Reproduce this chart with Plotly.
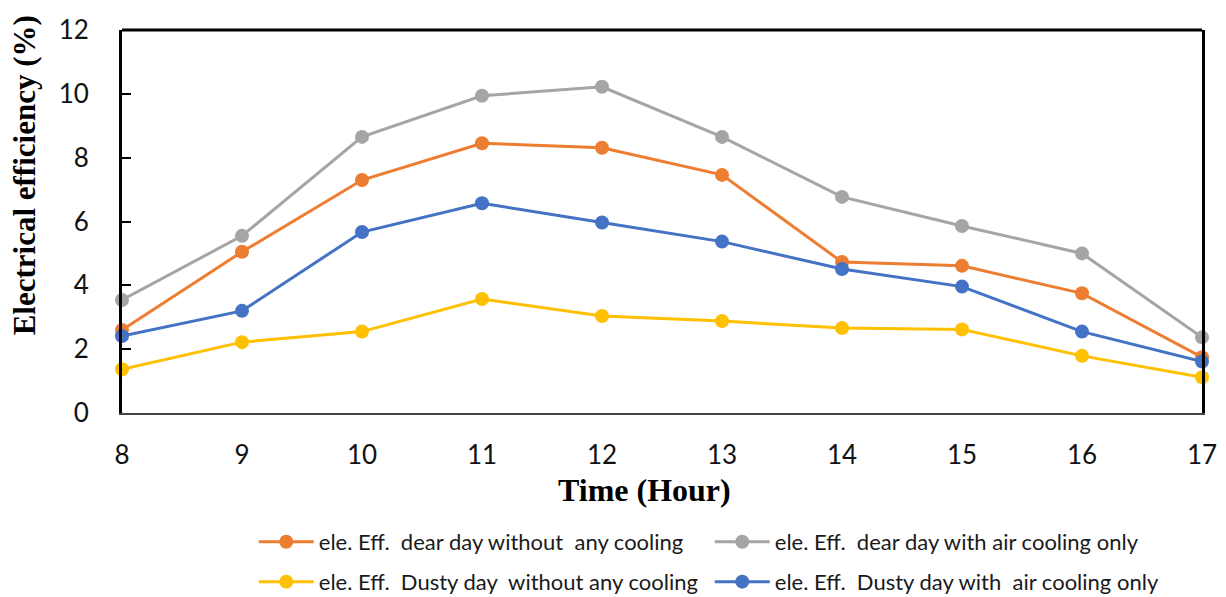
import plotly.graph_objects as go

hours = [8, 9, 10, 11, 12, 13, 14, 15, 16, 17]
clear_no_cool = [2.6, 5.05, 7.3, 8.45, 8.31, 7.46, 4.73, 4.61, 3.75, 1.75]
clear_air = [3.54, 5.55, 8.65, 9.94, 10.22, 8.65, 6.77, 5.86, 5.0, 2.37]
dusty_no_cool = [1.37, 2.22, 2.55, 3.57, 3.04, 2.88, 2.66, 2.62, 1.79, 1.12]
dusty_air = [2.41, 3.2, 5.67, 6.57, 5.97, 5.37, 4.51, 3.96, 2.55, 1.61]

names = [
    "ele. Eff.  dear day without  any cooling",
    "ele. Eff.  dear day with air cooling only",
    "ele. Eff.  Dusty day  without any cooling",
    "ele. Eff.  Dusty day with  air cooling only",
]
colors = ["#ED7D31", "#A5A5A5", "#FFC000", "#4472C4"]
series = [clear_no_cool, clear_air, dusty_no_cool, dusty_air]
legends = ["legend", "legend", "legend2", "legend2"]

fig = go.Figure()
for nm, c, s, lg in zip(names, colors, series, legends):
    fig.add_trace(go.Scatter(
        x=hours, y=s, name=nm, mode="lines+markers",
        line=dict(color=c, width=3),
        marker=dict(color=c, size=14),
        legend=lg, cliponaxis=False,
    ))

legfont = dict(family="Lato, Open Sans, sans-serif", size=22, color="#1a1a1a")
tickfont = dict(family="Lato, Open Sans, sans-serif", size=26, color="#111")
fig.update_layout(
    width=1226, height=597,
    margin=dict(l=122, r=24, t=30, b=184, autoexpand=False),
    plot_bgcolor="white", paper_bgcolor="white",
    showlegend=True,
    legend=dict(orientation="h", x=0.122, y=-0.282, xanchor="left", yanchor="top",
                font=legfont, itemwidth=55, entrywidth=386, entrywidthmode="pixels",
                bgcolor="rgba(0,0,0,0)"),
    legend2=dict(orientation="h", x=0.122, y=-0.386, xanchor="left", yanchor="top",
                 font=legfont, itemwidth=55, entrywidth=386, entrywidthmode="pixels",
                 bgcolor="rgba(0,0,0,0)"),
    xaxis=dict(range=[8, 17], tickvals=hours, ticktext=[str(h) for h in hours],
               showgrid=False, zeroline=False, showline=True, linecolor="#444",
               linewidth=2, ticks="", ticklabelstandoff=18, tickfont=tickfont,
               automargin=False),
    yaxis=dict(range=[0, 12], tickvals=[0, 2, 4, 6, 8, 10, 12],
               showgrid=False, zeroline=False, showline=True, linecolor="black",
               linewidth=3, mirror=True, ticks="inside", ticklen=9, tickcolor="black",
               tickwidth=2, ticklabelstandoff=25, tickfont=tickfont, automargin=False),
)
fig.add_shape(type="line", xref="paper", yref="paper", x0=0, x1=1, y0=1, y1=1,
              line=dict(color="black", width=3))
fig.add_annotation(text="<b>Electrical efficiency (%)</b>", xref="paper", yref="paper",
                   x=-0.09, y=0.62, textangle=-90, showarrow=False,
                   xanchor="center", yanchor="middle",
                   font=dict(family="Liberation Serif, Times New Roman, serif", size=31, color="black"))
fig.add_annotation(text="<b>Time (Hour)</b>", xref="paper", yref="paper",
                   x=0.484, y=-0.2, showarrow=False, xanchor="center", yanchor="middle",
                   font=dict(family="Liberation Serif, Times New Roman, serif", size=32, color="black"))
fig.write_html("out.html")
